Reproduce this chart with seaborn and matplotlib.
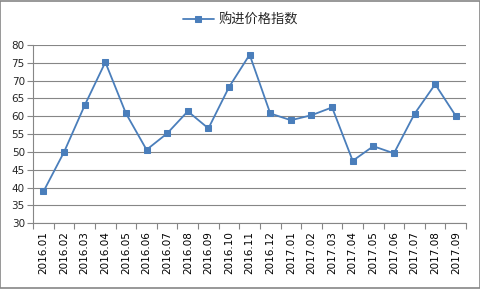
import matplotlib
matplotlib.use("Agg")
import matplotlib.pyplot as plt
import seaborn as sns
import pandas as pd
from matplotlib.patches import Rectangle

months = ["2016.01", "2016.02", "2016.03", "2016.04", "2016.05", "2016.06", "2016.07",
          "2016.08", "2016.09", "2016.10", "2016.11", "2016.12", "2017.01", "2017.02",
          "2017.03", "2017.04", "2017.05", "2017.06", "2017.07", "2017.08", "2017.09"]
values = [38.9, 50.0, 63.1, 75.2, 60.8, 50.6, 55.2, 61.4, 56.6, 68.2, 77.3, 60.8,
          58.9, 60.3, 62.5, 47.5, 51.6, 49.6, 60.7, 69.0, 60.1]
series_name = "购进价格指数"
y_ticks = [30, 35, 40, 45, 50, 55, 60, 65, 70, 75, 80]

df = pd.DataFrame({"month": months, "value": values, "series": series_name})

sns.set_theme(style="white")
plt.rcParams['font.family'] = ['DejaVu Sans']

fig = plt.figure(figsize=(4.81, 2.89), dpi=100)
ax = fig.add_axes([0.069, 0.228, 0.900, 0.616])

color = "#4A7EBB"
sns.lineplot(data=df, x="month", y="value", hue="series", palette=[color],
             marker="s", markersize=4.2, markeredgecolor=color, linewidth=1.3,
             sort=False, ax=ax)

ax.set_ylim(30, 80)
ax.set_yticks(y_ticks)
ax.set_xlim(-0.5, len(months) - 0.5)
ax.set_xticks(range(len(months)))
ax.set_xticklabels(months, rotation=90, fontsize=7.5, color="#000000")
ax.set_xticks([i - 0.5 for i in range(len(months) + 1)], minor=True)
ax.tick_params(axis="x", which="major", length=0, pad=6)
ax.tick_params(axis="x", which="minor", length=4, color="#868686", width=0.8, direction="out", bottom=True)
ax.tick_params(axis="y", length=4, color="#868686", width=0.8, direction="out", left=True, labelsize=7.5, pad=2)
ax.set_xlabel("")
ax.set_ylabel("")

ax.grid(axis="y", color="#868686", linewidth=0.8)
ax.set_axisbelow(True)
for side in ["top", "right"]:
    ax.spines[side].set_visible(False)
for side in ["left", "bottom"]:
    ax.spines[side].set_color("#868686")
    ax.spines[side].set_linewidth(0.8)

leg = ax.legend(loc="center", bbox_to_anchor=(0.5, 0.93), bbox_transform=fig.transFigure,
                frameon=False, handlelength=2.3, handletextpad=0.35,
                prop={"family": ["Noto Sans CJK SC", "DejaVu Sans"], "size": 9.5})

fig.patches.append(Rectangle((0.001, 0.002), 0.997, 0.995, transform=fig.transFigure,
                             fill=False, edgecolor="#868686", linewidth=1.2))

fig.savefig("out.png", dpi=100)
